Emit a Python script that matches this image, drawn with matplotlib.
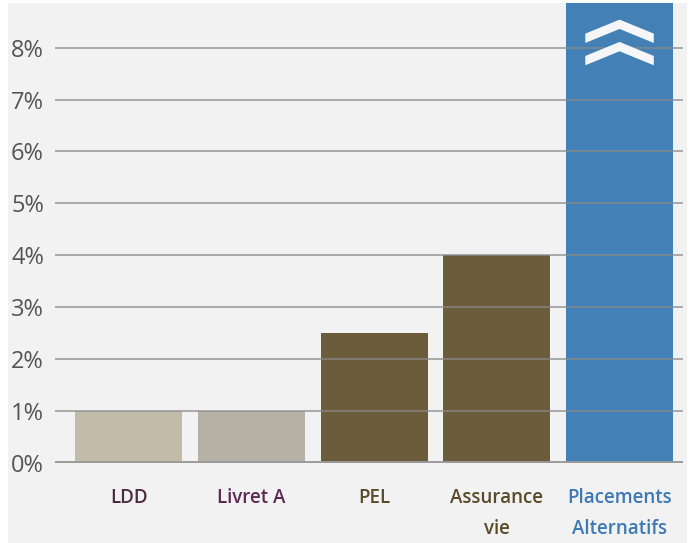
import matplotlib.pyplot as plt
from matplotlib.patches import Rectangle, Polygon
import numpy as np

labels = ['LDD', 'Livret A', 'PEL', 'Assurance\nvie', 'Placements\nAlternatifs']
values = [1.0, 1.0, 2.5, 4.0, 10.0]
bar_colors = ['#c3bba9', '#b5b1a5', '#6b5c3b', '#6b5c3b', '#4280b6']
label_colors = ['#4d2b40', '#5b2a52', '#5a4a2a', '#5a4a2a', '#3d79b4']
yticks = [0, 1, 2, 3, 4, 5, 6, 7, 8]
ytick_labels = ['%d%%' % v for v in yticks]

plt.rcParams['font.family'] = ['Open Sans', 'DejaVu Sans']

fig = plt.figure(figsize=(6.91, 5.43), dpi=100, facecolor='white')
fig.patches.append(Rectangle((8 / 691, 0), 679 / 691, 540 / 543, transform=fig.transFigure,
                             facecolor='#f2f2f2', edgecolor='none', zorder=-10))
ax = fig.add_axes([55 / 691, 80 / 543, 628 / 691, 460 / 543])
ax.set_facecolor('none')

x = np.arange(len(labels))
bars = ax.bar(x, values, width=0.872, color=bar_colors, zorder=1)
ax.set_xlim(-0.6, 4.517)
ax.set_ylim(0, 8.86)

for v in yticks[1:]:
    ax.axhline(v, color='#8a8a8a', lw=1.3, alpha=0.75, zorder=2)
ax.axhline(0, color='#9a9a9a', lw=3.5, zorder=3)

ax.set_yticks(yticks)
ax.set_yticklabels(ytick_labels, fontsize=17, color='#555555')
ax.set_xticks(x)
ax.set_xticklabels(labels, fontsize=13.5, fontweight='semibold', linespacing=1.7)
for t, c in zip(ax.get_xticklabels(), label_colors):
    t.set_color(c)
ax.tick_params(axis='y', length=0, pad=8)
ax.tick_params(axis='x', length=0, pad=18)
for s in ax.spines.values():
    s.set_visible(False)

# double chevron on the last bar
b = bars[-1]
cx = b.get_x() + b.get_width() / 2
hw = b.get_width() * 0.32
for top in [8.54, 8.11]:
    th = 0.18
    dy = 0.27
    pts = [(cx - hw, top - dy), (cx, top), (cx + hw, top - dy),
           (cx + hw, top - dy - th), (cx, top - th), (cx - hw, top - dy - th)]
    ax.add_patch(Polygon(pts, closed=True, facecolor='#f4f6f8', edgecolor='none', zorder=4))

fig.savefig('out.png', dpi=100, facecolor=fig.get_facecolor())
